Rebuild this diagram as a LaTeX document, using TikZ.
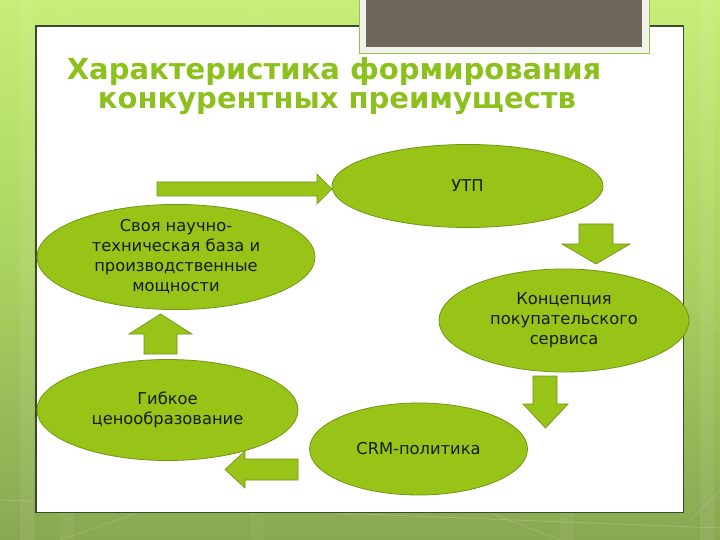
\documentclass[tikz,border=0pt]{standalone}
\usepackage{fontspec}
\setmainfont{DejaVu Sans}
\usetikzlibrary{shapes.geometric}
\definecolor{bgtop}{RGB}{198,238,120}
\definecolor{bgmid}{RGB}{170,210,96}
\definecolor{bgbot}{RGB}{136,168,82}
\definecolor{titlegreen}{RGB}{140,192,28}
\definecolor{ellfill}{RGB}{152,196,24}
\definecolor{elldraw}{RGB}{112,150,22}
\definecolor{framebord}{RGB}{60,74,44}
\definecolor{darkbox}{RGB}{110,102,88}
\definecolor{framelight}{RGB}{242,242,236}
\definecolor{frameedge}{RGB}{150,194,70}
\definecolor{txt}{RGB}{26,26,20}
\begin{document}
\begin{tikzpicture}[x=1pt,y=-1pt,
  oval/.style={ellipse, draw=elldraw, line width=0.8pt, fill=ellfill, inner sep=0pt,
    align=center, text=txt, font=\fontsize{16.3}{20}\selectfont},
  blockarrow/.style={draw=elldraw, line width=0.7pt, fill=ellfill, line join=miter},
  titletext/.style={text=titlegreen, font=\fontsize{29}{34}\bfseries\selectfont, inner sep=0pt}]
\useasboundingbox (0,0) rectangle (720,540);
% background
\shade[top color=bgtop, bottom color=bgbot, middle color=bgmid] (0,0) rectangle (720,540);
\foreach \xx/\op in {20/0.07, 60/0.05, 250/0.04, 560/0.05, 700/0.07}
  \fill[white, opacity=\op] (\xx,0) rectangle (\xx+14,540);
\draw[white, opacity=0.22, line width=0.6pt] (0,500) -- (720,528);
\draw[white, opacity=0.18, line width=0.6pt] (60,540) -- (260,470);
\draw[white, opacity=0.18, line width=0.6pt] (380,470) -- (560,540);
\draw[white, opacity=0.18, line width=0.6pt] (690,300) -- (720,330);
\draw[white, opacity=0.18, line width=0.6pt] (690,520) -- (720,490);
% white panel
\draw[framebord, line width=1.3pt, fill=white] (36,26) rectangle (683.5,512.5);
% top-right dark box
\draw[frameedge, line width=0.8pt, fill=framelight] (359,-2) rectangle (649,53);
\fill[darkbox] (366,-2) rectangle (642,47);
% title
\node[titletext] (t1) at (334,72) {Характеристика формирования};
\node[titletext] (t2) at (337,104) {конкурентных преимуществ};
% ellipses
\node[oval, minimum width=271pt, minimum height=83pt] (utp) at (467.5,186) {УТП};
\node[oval, minimum width=278pt, minimum height=102pt] (base) at (176,257) {Своя научно-\\техническая база и\\производственные\\мощности};
\node[oval, minimum width=250pt, minimum height=103pt] (serv) at (564,320.5) {Концепция\\покупательского\\сервиса};
\node[oval, minimum width=261pt, minimum height=101pt] (price) at (167.5,410) {Гибкое\\ценообразование};
\node[oval, minimum width=218pt, minimum height=92pt] (crm) at (418.5,449) {CRM-политика};
% block arrows
\draw[blockarrow] (157,182) -- (317,182) -- (317,174) -- (332,189) -- (317,204) -- (317,196) -- (157,196) -- cycle;
\draw[blockarrow] (579,224) -- (613,224) -- (613,244) -- (630,244) -- (596,264) -- (562,244) -- (579,244) -- cycle;
\draw[blockarrow] (533,376) -- (557,376) -- (557,404) -- (568,404) -- (545.5,428) -- (523,404) -- (533,404) -- cycle;
\draw[blockarrow] (298,459) -- (298,480) -- (245,480) -- (245,488) -- (225,469.5) -- (245,451) -- (245,459) -- cycle;
\draw[blockarrow] (144,354) -- (177,354) -- (177,334) -- (192,334) -- (160.5,314) -- (129,334) -- (144,334) -- cycle;
\end{tikzpicture}
\end{document}
